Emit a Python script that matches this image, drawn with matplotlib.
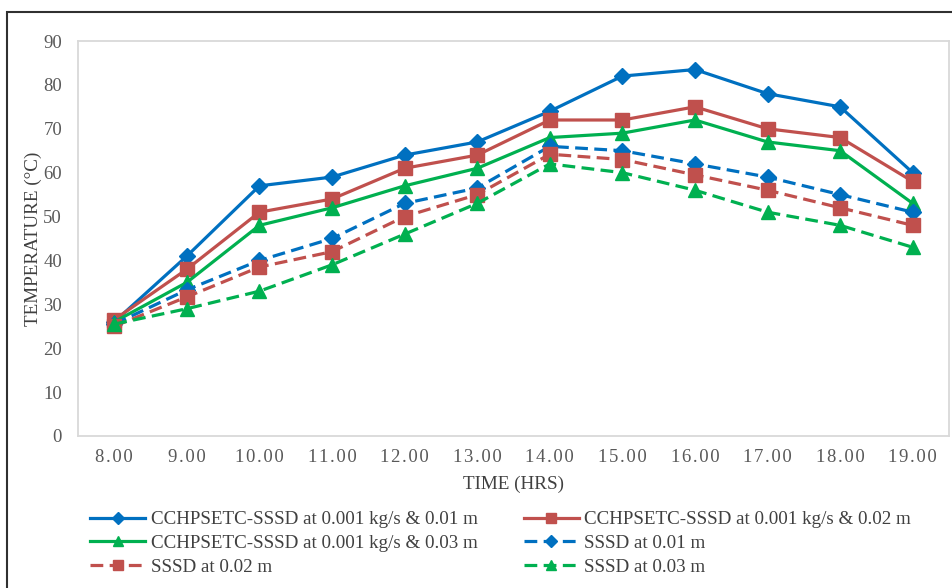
import matplotlib
matplotlib.use("Agg")
import matplotlib.pyplot as plt
from matplotlib.patches import Rectangle

hours = ["8.00", "9.00", "10.00", "11.00", "12.00", "13.00", "14.00", "15.00", "16.00", "17.00", "18.00", "19.00"]
cch_001 = [26, 41, 57, 59, 64, 67, 74, 82, 83.5, 78, 75, 60]
cch_002 = [26.5, 38, 51, 54, 61, 64, 72, 72, 75, 70, 68, 58]
cch_003 = [26, 35, 48, 52, 57, 61, 68, 69, 72, 67, 65, 53]
sssd_001 = [25.5, 33.3, 40, 45, 53, 56.5, 66, 65, 62, 59, 55, 51]
sssd_002 = [25, 31.7, 38.5, 42, 50, 55, 64.2, 63, 59.5, 56, 52, 48]
sssd_003 = [25.5, 29, 33, 39, 46, 53, 62, 60, 56, 51, 48, 43]
labels = ["CCHPSETC-SSSD at 0.001 kg/s & 0.01 m",
          "CCHPSETC-SSSD at 0.001 kg/s & 0.02 m",
          "CCHPSETC-SSSD at 0.001 kg/s & 0.03 m",
          "SSSD at 0.01 m", "SSSD at 0.02 m", "SSSD at 0.03 m"]

plt.rcParams['font.family'] = ['Liberation Serif', 'DejaVu Serif']

fig = plt.figure(figsize=(9.53, 5.88), dpi=100)
W, H = 953, 588
ax = fig.add_axes([78 / W, 1 - 436 / H, (949 - 78) / W, (436 - 41) / H])

blue, red, green = "#0070C0", "#C0504D", "#00B050"
x = list(range(len(hours)))
lw = 2.3
series = [
    (cch_001, blue, "-", "D", 8),
    (cch_002, red, "-", "s", 9.5),
    (cch_003, green, "-", "^", 9.5),
    (sssd_001, blue, "--", "D", 8),
    (sssd_002, red, "--", "s", 9.5),
    (sssd_003, green, "--", "^", 9.5),
]
handles = []
for (vals, c, ls, m, ms), lab in zip(series, labels):
    h, = ax.plot(x, vals, color=c, linestyle=ls, marker=m, markersize=ms, lw=lw,
                 markeredgecolor=c, markerfacecolor=c, label=lab)
    if ls == "--":
        h.set_dashes([4, 2])
    handles.append(h)

ax.set_xlim(-0.5, len(hours) - 0.5)
ax.set_ylim(0, 90)
ax.set_yticks(range(0, 91, 10))
ax.set_xticks(x)
sp = "\u200a"
ax.set_xticklabels([sp.join(list(h)) for h in hours])
ax.tick_params(axis='both', length=0, labelsize=13.5, labelcolor="#595959")
ax.tick_params(axis='y', pad=11.5)
ax.tick_params(axis='x', pad=9)
for s in ax.spines.values():
    s.set_color("#d9d9d9")
    s.set_linewidth(1.3)

ax.set_xlabel("TIME (HRS)", fontsize=13.8, color="#404040", labelpad=7)
ax.set_ylabel("TEMPERATURE (°C)", fontsize=13.8, color="#404040", labelpad=1)

order = [0, 2, 4, 1, 3, 5]
leg = fig.legend([handles[i] for i in order], [labels[i] for i in order],
                 loc="upper left", bbox_to_anchor=(73 / W, 1 - 494 / H),
                 ncol=2, frameon=False, fontsize=13.7, handlelength=2.9, columnspacing=2.4,
                 handletextpad=0.3, labelspacing=0.33, markerscale=0.75)
for t in leg.get_texts():
    t.set_color("#404040")

fig.patches.append(Rectangle((7 / W, -0.05), 1.1, 1 - 12 / H + 0.05, transform=fig.transFigure,
                             fill=False, edgecolor="#303030", linewidth=1.5))

fig.savefig("out.png", dpi=100)
